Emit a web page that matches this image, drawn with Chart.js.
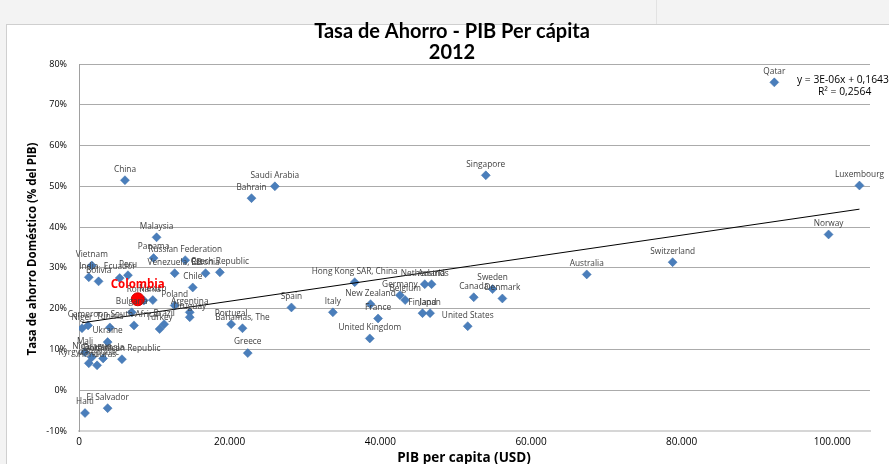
<!DOCTYPE html>
<html><head><meta charset="utf-8">
<script src="https://cdn.jsdelivr.net/npm/chart.js@4/dist/chart.umd.min.js"></script>
<style>
html,body{margin:0;padding:0;background:#f3f3f3;width:889px;height:464px;overflow:hidden}
#frame{position:absolute;left:6px;top:24px;width:900px;height:460px;background:#fff;border:1px solid #cfcfcf}
#divider{position:absolute;left:656px;top:0;width:1px;height:24px;background:#e2e2e2}
#wrap{position:absolute;left:0;top:0;width:889px;height:464px}
</style></head><body>
<div id="frame"></div><div id="divider"></div>
<div id="wrap"><canvas id="c" width="889" height="464"></canvas></div>
<script>
// ---- data (GDP per capita in USD, savings rate in % of GDP) ----
const countries = ["Qatar","Luxembourg","Norway","Switzerland","Australia","Singapore","Sweden","Denmark","Canada","United States",
  "Netherlands","Austria","Germany","Belgium","Finland","Japan","Hong Kong SAR, China","New Zealand","France","United Kingdom",
  "Italy","Spain","Saudi Arabia","Bahrain","Greece","Portugal","Bahamas, The","China","Malaysia","Panama",
  "Russian Federation","Venezuela, RB","Estonia","Czech Republic","Chile","Romania","Mexico","Bulgaria","Poland","Argentina",
  "Uruguay","Brazil","Turkey","South Africa","Cameroon","Niger","Tunisia","Ukraine","Mali","Nicaragua",
  "Kyrgyz Republic","Guatemala","Dominican Republic","Honduras","Vietnam","India","Bolivia","Ecuador","Peru","Haiti","El Salvador"];
const gdpPerCapita = [92300,103600,99500,78800,67400,54000,54900,56200,52400,51600,
  45900,46800,42600,43300,45600,46600,36600,38700,39700,38600,
  33700,28200,26000,22900,22400,20200,21700,6100,10300,9900,
  14100,12700,16800,18700,15100,8600,9800,7000,12700,14700,
  14700,11300,10700,7300,1200,400,4100,3800,800,1700,
  1300,3200,5700,2400,1700,1300,2600,5400,6500,800,3800];
const savingsRate = [75.5,50.2,38.2,31.4,28.4,52.7,24.8,22.5,22.8,15.7,
  26.0,26.0,23.3,22.1,18.9,18.9,26.5,21.1,17.6,12.7,
  19.1,20.3,50.0,47.1,9.1,16.2,15.2,51.5,37.5,32.4,
  31.9,28.7,28.7,28.9,25.2,22.0,22.1,19.1,20.8,19.1,
  17.9,16.2,15.0,15.9,15.9,15.2,15.4,11.8,9.3,8.1,
  6.6,7.8,7.6,6.1,30.6,27.7,26.7,27.5,28.2,-5.6,-4.4];
const highlightName = ["Colombia"];
const highlightGdp = [7800];
const highlightSavings = [22.3];
const xTickValues = [0,20000,40000,60000,80000,100000];
const yTickValues = [-10,0,10,20,30,40,50,60,70,80];
const trendSlope = 0.00027;     // percentage points per USD  (y = 3E-06x + 0,1643)
const trendIntercept = 16.43;
const trendLabel = ["y = 3E-06x + 0,1643","R\u00b2 = 0,2564"];
const titleLines = ["Tasa de Ahorro - PIB Per c\u00e1pita","2012"];
const xAxisTitle = "PIB per capita (USD)";
const yAxisTitle = "Tasa de ahorro Dom\u00e9stico (% del PIB)";

// ---- build datasets ----
const allX = gdpPerCapita.concat(highlightGdp);
const xMinData = Math.min(...allX), xMaxData = Math.max(...allX);
const pts = countries.map((c,i)=>({x:gdpPerCapita[i], y:savingsRate[i], label:c}));
const hpts = highlightName.map((c,i)=>({x:highlightGdp[i], y:highlightSavings[i], label:c}));
const trend = [xMinData, xMaxData].map(x=>({x:x, y:trendIntercept + trendSlope*x}));

const LABEL_FONT = "8.3px 'Open Sans'";
const labelPlugin = {
  id:'labels',
  afterDatasetsDraw(chart){
    const ctx = chart.ctx;
    ctx.save();
    ctx.textAlign='center'; ctx.textBaseline='middle';
    const m0 = chart.getDatasetMeta(2);
    ctx.font = LABEL_FONT; ctx.fillStyle='#404040';
    m0.data.forEach((el,i)=>{ ctx.fillText(pts[i].label, el.x, el.y-11); });
    const m1 = chart.getDatasetMeta(0);
    ctx.font = "bold 11.5px 'Open Sans'"; ctx.fillStyle='#ff0000';
    m1.data.forEach((el,i)=>{ ctx.fillText(hpts[i].label, el.x, el.y-15); });
    ctx.restore();
  },
  afterDraw(chart){
    const ctx = chart.ctx;
    ctx.save();
    ctx.fillStyle='#000'; ctx.textAlign='center'; ctx.textBaseline='middle';
    ctx.font = "bold 20px Lato";
    ctx.fillText(titleLines[0], 452, 32);
    ctx.fillText(titleLines[1], 452, 53);
    ctx.font = "bold 13.5px 'Open Sans'";
    ctx.fillText(xAxisTitle, 464, 458);
    ctx.save();
    ctx.translate(33, 249); ctx.rotate(-Math.PI/2);
    ctx.font = "bold 11.5px 'Open Sans'";
    ctx.fillText(yAxisTitle, 0, 0);
    ctx.restore();
    ctx.font = "10.3px 'Open Sans'"; ctx.textAlign='left';
    ctx.fillText(trendLabel[0], 797, 80);
    ctx.fillText(trendLabel[1], 818, 92);
    ctx.restore();
  }
};

new Chart(document.getElementById('c'), {
  type:'scatter',
  data:{datasets:[
    {label:'Colombia', data:hpts, order:0, pointStyle:'circle', pointRadius:6.5, pointHoverRadius:6.5,
      backgroundColor:'#ff0000', borderColor:'#d00000', borderWidth:1},
    {label:'Tendencia', type:'line', data:trend, order:1, borderColor:'#000', borderWidth:1, pointRadius:0, fill:false, tension:0},
    {label:'Pa\u00edses', data:pts, order:2, pointStyle:'rectRot', pointRadius:4.5, pointHoverRadius:4.5,
      backgroundColor:'#4a7ebb', borderColor:'#3f70aa', borderWidth:0.5}
  ]},
  options:{
    responsive:false, animation:false, devicePixelRatio:1,
    layout:{padding:{left:0,right:19,top:64,bottom:0}},
    plugins:{legend:{display:false}, tooltip:{enabled:false}, title:{display:false}},
    scales:{
      x:{type:'linear', min:0, max:105000,
        afterBuildTicks(s){ s.ticks = xTickValues.map(v=>({value:v})); },
        afterFit(s){ s.height = 33; },
        grid:{display:false, drawTicks:false},
        border:{display:true, color:'#d6d6d6', width:2},
        ticks:{padding:5, color:'#000', font:{family:'Open Sans', size:10},
          callback:v=>v.toLocaleString('de-DE')},
        title:{display:false}
      },
      y:{type:'linear', min:-10, max:80,
        afterBuildTicks(s){ s.ticks = yTickValues.map(v=>({value:v})); },
        afterFit(s){ s.width = 79; },
        grid:{drawTicks:false, color:'#ababab', lineWidth:1},
        border:{display:true, color:'#a0a0a0', width:1},
        ticks:{padding:12, color:'#000', font:{family:'Open Sans', size:9}, callback:v=>v+'%'},
        title:{display:false}
      }
    }
  },
  plugins:[labelPlugin]
});
</script>
</body></html>
